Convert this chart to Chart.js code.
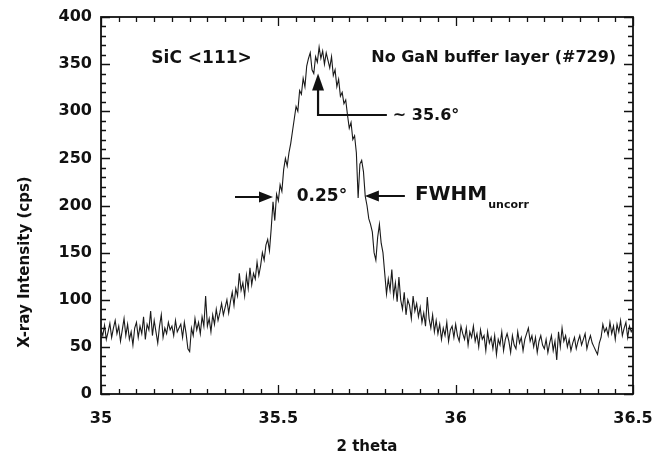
<!DOCTYPE html>
<html>
<head>
<meta charset="utf-8">
<script src="https://cdn.jsdelivr.net/npm/chart.js@4/dist/chart.umd.min.js"></script>
<style>
html,body{margin:0;padding:0;background:#fff;}
#c{display:block;}
</style>
</head>
<body>
<canvas id="c" width="655" height="461"></canvas>
<script>
// ---- data ----
const twoThetaStart = 35.0;
const twoThetaStep = 0.005;
const intensity = [
 68, 62, 73, 58, 66, 75, 60, 70, 78, 64,
 72, 56, 68, 80, 62, 74, 58, 66, 52, 70,
 76, 60, 72, 64, 82, 58, 74, 68, 88, 62,
 78, 66, 54, 72, 84, 60, 70, 64, 76, 68,
 72, 62, 78, 66, 70, 74, 60, 76, 64, 48,
 45, 70, 62, 80, 68, 76, 64, 82, 72, 104,
 72, 80, 66, 84, 74, 90, 78, 86, 96, 84,
 92, 100, 86, 98, 108, 94, 112, 104, 128, 110,
 118, 104, 126, 112, 134, 116, 128, 122, 140, 126,
 136, 150, 142, 158, 164, 152, 176, 204, 184, 212,
 205, 222, 215, 238, 250, 242, 256, 266, 279, 292,
 305, 300, 322, 318, 335, 326, 348, 356, 362, 344,
 340, 358, 352, 368, 356, 364, 350, 362, 354, 346,
 358, 338, 344, 326, 334, 316, 320, 308, 312, 296,
 282, 288, 270, 274, 256, 208, 244, 248, 236, 210,
 200, 186, 180, 172, 150, 142, 166, 180, 160, 150,
 128, 106, 122, 110, 132, 104, 118, 98, 124, 100,
 90, 108, 84, 100, 94, 80, 104, 88, 96, 82,
 92, 76, 86, 72, 103, 80, 70, 84, 66, 78,
 64, 74, 58, 70, 62, 76, 56, 68, 72, 60,
 74, 62, 56, 72, 64, 58, 70, 52, 66, 60,
 72, 56, 64, 50, 68, 58, 62, 46, 66, 54,
 60, 48, 62, 42, 58, 52, 66, 46, 58, 64,
 56, 44, 62, 52, 48, 66, 54, 60, 46, 58,
 64, 70, 56, 62, 50, 60, 44, 56, 62, 52,
 48, 58, 44, 54, 62, 46, 56, 36, 66, 50,
 70, 56, 62, 50, 58, 46, 54, 60, 48, 56,
 62, 52, 58, 64, 48, 56, 62, 54, 50, 46,
 42, 54, 60, 74, 66, 70, 62, 76, 64, 72,
 58, 74, 66, 78, 62, 70, 76, 60, 72, 66, 70
];
const xTickLabels = [35, 35.5, 36, 36.5];
const yTickLabels = [0, 50, 100, 150, 200, 250, 300, 350, 400];
const xRange = [35, 36.5];
const yRange = [0, 400];
const xTitle = "2 theta";
const yTitle = "X-ray Intensity (cps)";
const sampleLabel = "SiC <111>";
const sampleNote = "No GaN buffer layer (#729)";
const peakPos = 35.612;          // peak marker position (2 theta)
const peakText = "~ 35.6\u00B0";
const fwhmLeft = 35.485, fwhmRight = 35.744, fwhmLevel = 209;
const fwhmText = "0.25\u00B0";
const fwhmLabel = "FWHM", fwhmSub = "uncorr";

const points = intensity.map((v, i) => ({x: twoThetaStart + i * twoThetaStep, y: v}));

const FONT = '"DejaVu Sans", "Liberation Sans", Arial, sans-serif';
const INK = '#111';

const framePlugin = {
  id: 'frame',
  afterDatasetsDraw(chart) {
    const {ctx, chartArea: a, scales: {x, y}} = chart;
    ctx.save();
    ctx.strokeStyle = INK;
    ctx.lineWidth = 1.3;
    ctx.beginPath();
    const nx = Math.round((xRange[1] - xRange[0]) / 0.05);
    for (let k = 0; k <= nx; k++) {
      const px = Math.round(x.getPixelForValue(xRange[0] + k * 0.05)) + 0.5;
      const len = (k % 10 === 0) ? 9 : 5;
      ctx.moveTo(px, a.bottom); ctx.lineTo(px, a.bottom - len);
      ctx.moveTo(px, a.top); ctx.lineTo(px, a.top + len);
    }
    const ny = Math.round((yRange[1] - yRange[0]) / 10);
    for (let k = 0; k <= ny; k++) {
      const py = Math.round(y.getPixelForValue(yRange[0] + k * 10)) + 0.5;
      const len = (k % 5 === 0) ? 9 : 5;
      ctx.moveTo(a.left, py); ctx.lineTo(a.left + len, py);
      ctx.moveTo(a.right, py); ctx.lineTo(a.right - len, py);
    }
    ctx.stroke();
    ctx.lineWidth = 1.8;
    ctx.strokeRect(a.left, a.top, a.right - a.left, a.bottom - a.top);
    ctx.restore();
  },
  afterDraw(chart) {
    const {ctx, chartArea: a, scales: {x, y}} = chart;
    ctx.save();
    ctx.fillStyle = INK;
    ctx.strokeStyle = INK;
    ctx.font = 'bold 15px ' + FONT;
    ctx.textAlign = 'center';
    ctx.textBaseline = 'middle';
    ctx.fillText(xTitle, (a.left + a.right) / 2, 447);
    ctx.save();
    ctx.translate(25, 262);
    ctx.rotate(-Math.PI / 2);
    ctx.fillText(yTitle, 0, 0);
    ctx.restore();

    ctx.textAlign = 'left';
    ctx.font = 'bold 17px ' + FONT;
    ctx.fillText(sampleLabel, x.getPixelForValue(35.142), y.getPixelForValue(356));
    ctx.font = 'bold 16px ' + FONT;
    ctx.fillText(sampleNote, x.getPixelForValue(35.762), y.getPixelForValue(357));

    const px = x.getPixelForValue(peakPos);
    const tipY = y.getPixelForValue(340);
    const baseY = y.getPixelForValue(296);
    const elbowX = x.getPixelForValue(35.806);
    ctx.lineWidth = 2.2;
    ctx.beginPath();
    ctx.moveTo(elbowX, baseY); ctx.lineTo(px, baseY); ctx.lineTo(px, tipY + 14);
    ctx.stroke();
    ctx.beginPath();
    ctx.moveTo(px, tipY); ctx.lineTo(px - 6, tipY + 17); ctx.lineTo(px + 6, tipY + 17); ctx.closePath();
    ctx.fill();
    ctx.font = 'bold 16px ' + FONT;
    ctx.fillText(peakText, elbowX + 6, baseY + 1);

    const fy = y.getPixelForValue(fwhmLevel);
    const lx = x.getPixelForValue(fwhmLeft);
    const rx = x.getPixelForValue(fwhmRight);
    ctx.lineWidth = 2;
    ctx.beginPath();
    ctx.moveTo(lx - 38, fy); ctx.lineTo(lx - 12, fy);
    ctx.moveTo(rx + 12, fy - 1); ctx.lineTo(rx + 40, fy - 1);
    ctx.stroke();
    ctx.beginPath();
    ctx.moveTo(lx, fy); ctx.lineTo(lx - 14, fy - 5.5); ctx.lineTo(lx - 14, fy + 5.5); ctx.closePath();
    ctx.moveTo(rx, fy - 1); ctx.lineTo(rx + 14, fy - 6.5); ctx.lineTo(rx + 14, fy + 4.5); ctx.closePath();
    ctx.fill();
    ctx.font = 'bold 17px ' + FONT;
    ctx.textAlign = 'center';
    ctx.fillText(fwhmText, x.getPixelForValue(35.623), fy);
    ctx.textAlign = 'left';
    ctx.font = 'bold 20px ' + FONT;
    const fx = x.getPixelForValue(35.885);
    ctx.fillText(fwhmLabel, fx, fy - 2);
    const w = ctx.measureText(fwhmLabel).width;
    ctx.font = 'bold 11px ' + FONT;
    ctx.fillText(fwhmSub, fx + w + 1, fy + 8);
    ctx.restore();
  }
};

new Chart(document.getElementById('c'), {
  type: 'line',
  data: {
    datasets: [{
      data: points,
      borderColor: '#1a1a1a',
      borderWidth: 1.1,
      pointRadius: 0,
      tension: 0,
      fill: false
    }]
  },
  options: {
    responsive: false,
    animation: false,
    devicePixelRatio: 1,
    layout: {padding: {left: 0, right: 22, top: 17, bottom: 0}},
    plugins: {legend: {display: false}, tooltip: {enabled: false}},
    scales: {
      x: {
        type: 'linear',
        min: xRange[0], max: xRange[1],
        grid: {display: false, drawTicks: false},
        border: {display: false},
        afterBuildTicks: s => { s.ticks = xTickLabels.map(v => ({value: v})); },
        afterFit: s => { s.height = 67; s.paddingLeft = 0; s.paddingRight = 0; },
        ticks: {
          padding: 15,
          maxRotation: 0,
          autoSkip: false,
          color: INK,
          font: {family: FONT, size: 16, weight: 'bold'},
          callback: v => String(v)
        }
      },
      y: {
        min: yRange[0], max: yRange[1],
        grid: {display: false, drawTicks: false},
        border: {display: false},
        afterBuildTicks: s => { s.ticks = yTickLabels.map(v => ({value: v})); },
        afterFit: s => { s.width = 101; s.paddingTop = 0; s.paddingBottom = 0; },
        ticks: {
          padding: 9,
          color: INK,
          font: {family: FONT, size: 16, weight: 'bold'},
          callback: v => String(v)
        }
      }
    }
  },
  plugins: [framePlugin]
});
</script>
</body>
</html>
